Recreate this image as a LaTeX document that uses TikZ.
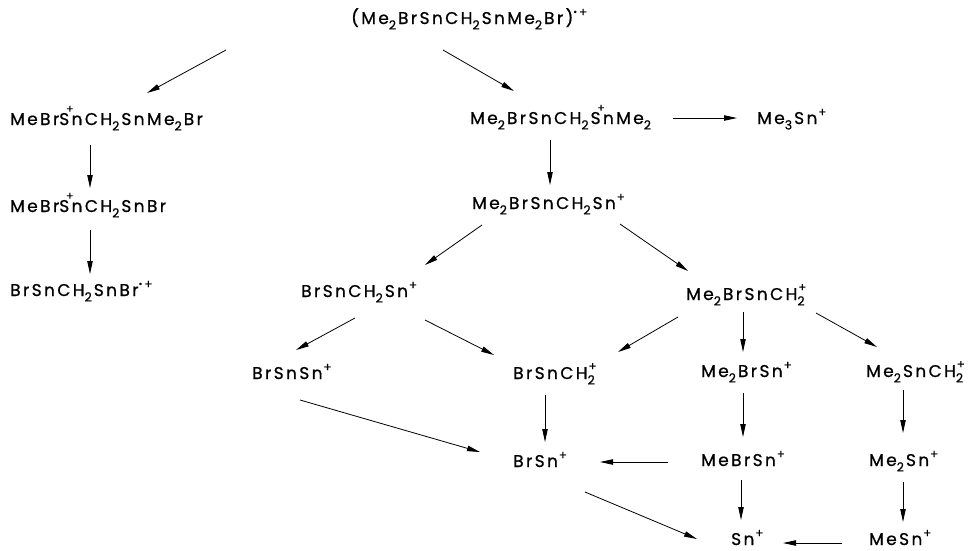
\documentclass[tikz,border=0pt]{standalone}
\usepackage{fontspec}
\setmainfont[LetterSpace=14,FakeBold=0.8]{Poppins}
\usetikzlibrary{arrows.meta}
\newcommand\sbt[1]{\raisebox{-0.32em}{\fontsize{12.5}{12.5}\selectfont #1}\kern0.12em}
\newcommand\sbp[1]{\makebox[0pt][l]{\kern0.05em\raisebox{0.5em}{\fontsize{12}{12}\selectfont +}}\raisebox{-0.32em}{\fontsize{12.5}{12.5}\selectfont #1}}
\newcommand\spl{\kern0.05em\raisebox{0.45em}{\fontsize{12}{12}\selectfont +}}
\newcommand\rad{\raisebox{0.45em}{\fontsize{12}{12}\selectfont\raisebox{0.12em}{\fontsize{9}{9}\selectfont •}\,+}}
\newcommand\pSn{\makebox[0pt][l]{\kern0.4em\raisebox{0.72em}{\fontsize{11}{11}\selectfont +}}Sn}
\begin{document}
\begin{tikzpicture}[x=1pt,y=-1pt,
  ion/.style={anchor=base west,inner sep=0pt,font=\fontsize{17}{19}\selectfont},
  arr/.style={line width=0.8pt,-{Triangle[length=13pt,width=5.4pt]}}]
\useasboundingbox (0,0) rectangle (969,550);
\node[ion] (top) at (351,24) {(Me\sbt{2}BrSnCH\sbt{2}SnMe\sbt{2}Br)\rad};
\node[ion] (l1) at (10,125) {MeBr\pSn CH\sbt{2}SnMe\sbt{2}Br};
\node[ion] (r1) at (470,124) {Me\sbt{2}BrSnCH\sbt{2}\pSn Me\sbt{2}};
\node[ion] (m3) at (757,124) {Me\sbt{3}Sn\spl};
\node[ion] (l2) at (10,212) {MeBr\pSn CH\sbt{2}SnBr};
\node[ion] (r2) at (472,209) {Me\sbt{2}BrSnCH\sbt{2}Sn\spl};
\node[ion] (l3) at (10,296) {BrSnCH\sbt{2}SnBr\rad};
\node[ion] (b1) at (301,297) {BrSnCH\sbt{2}Sn\spl};
\node[ion] (c1) at (686,300) {Me\sbt{2}BrSnCH\sbp{2}};
\node[ion] (d1) at (252,379) {BrSnSn\spl};
\node[ion] (d2) at (513,379) {BrSnCH\sbp{2}};
\node[ion] (d3) at (701,377) {Me\sbt{2}BrSn\spl};
\node[ion] (d4) at (866,377) {Me\sbt{2}SnCH\sbp{2}};
\node[ion] (e1) at (513,467) {BrSn\spl};
\node[ion] (e2) at (701,466) {MeBrSn\spl};
\node[ion] (e3) at (869,466) {Me\sbt{2}Sn\spl};
\node[ion] (f1) at (731,545) {Sn\spl};
\node[ion] (f2) at (869,545) {MeSn\spl};
\draw[arr] ([shift={(-125,26)}]top.base west) -- ([shift={(137,-32)}]l1.base west);
\draw[arr] ([shift={(92,26)}]top.base west) -- ([shift={(44,-33)}]r1.base west);
\draw[arr] ([shift={(203,-6)}]r1.base west) -- ([shift={(-20,-6)}]m3.base west);
\draw[arr] ([shift={(80,20)}]l1.base west) -- ([shift={(80,-24)}]l2.base west);
\draw[arr] ([shift={(80,18)}]l2.base west) -- ([shift={(80,-22)}]l3.base west);
\draw[arr] ([shift={(80,16)}]r1.base west) -- ([shift={(78,-24)}]r2.base west);
\draw[arr] ([shift={(10,16)}]r2.base west) -- ([shift={(124,-32)}]b1.base west);
\draw[arr] ([shift={(148,15)}]r2.base west) -- ([shift={(2,-29)}]c1.base west);
\draw[arr] ([shift={(54,21)}]b1.base west) -- ([shift={(44,-29)}]d1.base west);
\draw[arr] ([shift={(124,23)}]b1.base west) -- ([shift={(-19,-24)}]d2.base west);
\draw[arr] ([shift={(-8,17)}]c1.base west) -- ([shift={(105,-27)}]d2.base west);
\draw[arr] ([shift={(57,12)}]c1.base west) -- ([shift={(42,-25)}]d3.base west);
\draw[arr] ([shift={(130,13)}]c1.base west) -- ([shift={(11,-30)}]d4.base west);
\draw[arr] ([shift={(32,16)}]d2.base west) -- ([shift={(32,-25)}]e1.base west);
\draw[arr] ([shift={(48,21)}]d1.base west) -- ([shift={(-33,-15)}]e1.base west);
\draw[arr] ([shift={(42,16)}]d3.base west) -- ([shift={(42,-29)}]e2.base west);
\draw[arr] ([shift={(-33,-4)}]e2.base west) -- ([shift={(87,-5)}]e1.base west);
\draw[arr] ([shift={(37,13)}]d4.base west) -- ([shift={(34,-33)}]e3.base west);
\draw[arr] ([shift={(34,16)}]e3.base west) -- ([shift={(34,-23)}]f2.base west);
\draw[arr] ([shift={(40,14)}]e2.base west) -- ([shift={(10,-25)}]f1.base west);
\draw[arr] ([shift={(72,25)}]e1.base west) -- ([shift={(-34,-6)}]f1.base west);
\draw[arr] ([shift={(-27,-2)}]f2.base west) -- ([shift={(52,-2)}]f1.base west);
\end{tikzpicture}
\end{document}
